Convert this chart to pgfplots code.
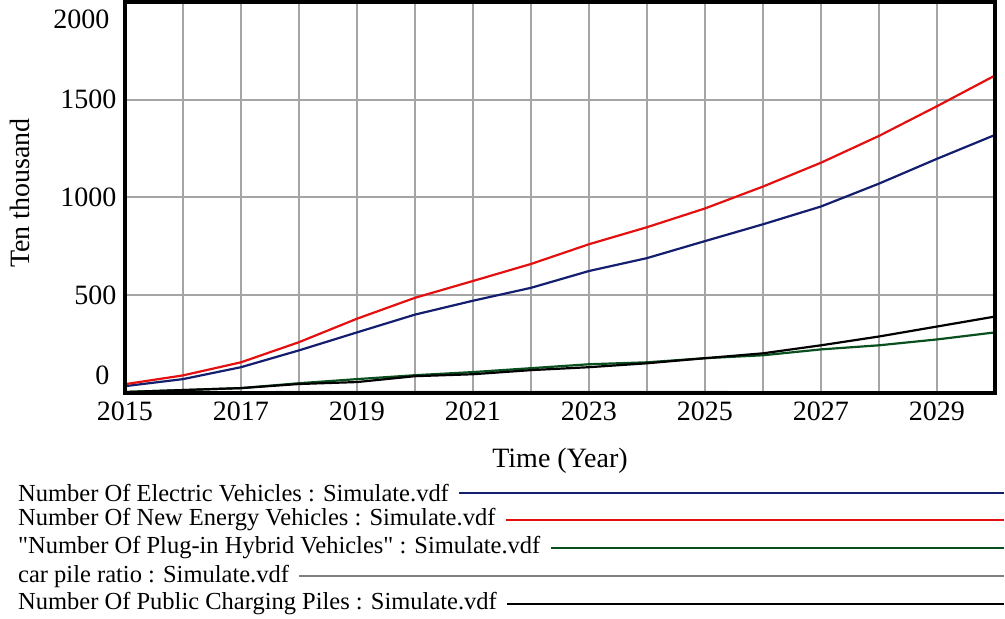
\documentclass[border=0pt]{standalone}
\usepackage{pgfplots}
\pgfplotsset{compat=1.18}
\usepackage{fontspec}
\setmainfont{Liberation Serif}

\definecolor{evblue}{RGB}{20,30,110}
\definecolor{nevred}{RGB}{228,16,16}
\definecolor{phevgreen}{RGB}{10,80,30}
\definecolor{ratiogray}{RGB}{128,128,128}
\definecolor{gridgray}{RGB}{165,165,165}

\begin{document}
\begin{tikzpicture}[x=1pt,y=1pt]
\useasboundingbox (0,0) rectangle (1005,619);
\begin{axis}[
    at={(125pt,226pt)}, anchor=south west,
    scale only axis,
    width=870pt, height=391pt,
    xmin=2015, xmax=2030, ymin=0, ymax=2000,
    xtick={2015,...,2030},
    xticklabels={2015,,2017,,2019,,2021,,2023,,2025,,2027,,2029,},
    ytick={500,1000,1500},
    major tick length=0pt,
    xmajorgrids, ymajorgrids,
    grid style={draw=gridgray, line width=2pt},
    axis line style={draw=none},
    tick label style={font=\fontsize{28}{28}\selectfont},
    xticklabel style={yshift=-5pt},
    yticklabel style={xshift=-5pt},
    /pgf/number format/assume math mode=true,
    /pgf/number format/1000 sep={},
    clip=false,
]
\addplot[ratiogray, line width=2.2pt] coordinates {
 (2015,3) (2016,4) (2017,4) (2018,5) (2019,5) (2020,5) (2021,5) (2022,5)
 (2023,5) (2024,5) (2025,5) (2026,4) (2027,4) (2028,4) (2029,4) (2030,4)};
\addplot[phevgreen, line width=2.2pt] coordinates {
 (2015,5) (2016,15) (2017,25) (2018,50) (2019,71) (2020,91) (2021,107) (2022,127)
 (2023,147) (2024,157) (2025,178) (2026,193) (2027,223) (2028,244) (2029,274) (2030,310)};
\addplot[black, line width=2.2pt] coordinates {
 (2015,5) (2016,15) (2017,25) (2018,46) (2019,56) (2020,86) (2021,96) (2022,117)
 (2023,132) (2024,152) (2025,178) (2026,203) (2027,244) (2028,289) (2029,340) (2030,391)};
\addplot[evblue, line width=2.2pt] coordinates {
 (2015,35) (2016,71) (2017,132) (2018,218) (2019,310) (2020,401) (2021,472) (2022,538)
 (2023,624) (2024,690) (2025,777) (2026,863) (2027,954) (2028,1071) (2029,1198) (2030,1320)};
\addplot[nevred, line width=2.2pt] coordinates {
 (2015,45) (2016,90) (2017,157) (2018,260) (2019,380) (2020,487) (2021,573) (2022,660)
 (2023,761) (2024,848) (2025,944) (2026,1056) (2027,1178) (2028,1315) (2029,1467) (2030,1624)};
\draw[black, line width=3.5pt] (rel axis cs:0,0) rectangle (rel axis cs:1,1);
\node[anchor=east, font=\fontsize{28}{28}\selectfont] at (axis cs:2015,0) [xshift=-12pt, yshift=18pt] {0};
\node[anchor=east, font=\fontsize{28}{28}\selectfont] at (axis cs:2015,2000) [xshift=-12pt, yshift=-17pt] {2000};
\end{axis}
\node[rotate=90, font=\fontsize{28}{28}\selectfont] at (20,426) {Ten thousand};
\node[font=\fontsize{28}{28}\selectfont] at (560,158) {Time (Year)};
\begin{scope}[every node/.style={anchor=west, inner sep=0pt, font=\fontsize{24.5}{24.5}\selectfont}]
\node (l1) at (18,126) {Number Of Electric Vehicles : Simulate.vdf};
\node (l2) at (18,99) {Number Of New Energy Vehicles : Simulate.vdf};
\node (l3) at (18,71) {\textquotedbl Number Of Plug-in Hybrid Vehicles\textquotedbl\ : Simulate.vdf};
\node (l4) at (18,43) {car pile ratio : Simulate.vdf};
\node (l5) at (18,15) {Number Of Public Charging Piles : Simulate.vdf};
\end{scope}
\draw[evblue, line width=2pt] ([xshift=10pt]l1.east) -- (1004,126);
\draw[nevred, line width=2pt] ([xshift=10pt]l2.east) -- (1004,99);
\draw[phevgreen, line width=2pt] ([xshift=10pt]l3.east) -- (1004,71);
\draw[ratiogray, line width=2pt] ([xshift=10pt]l4.east) -- (1004,43);
\draw[black, line width=2pt] ([xshift=10pt]l5.east) -- (1004,15);
\end{tikzpicture}
\end{document}
